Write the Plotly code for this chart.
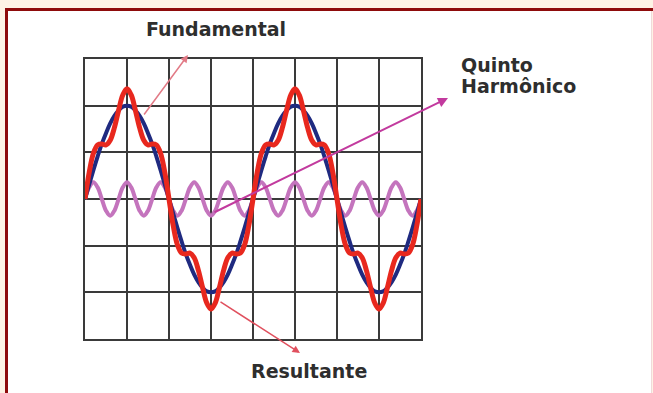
import plotly.graph_objects as go

# sample positions (grid columns)
x_cols = [round(i * 0.1, 1) for i in range(81)]

# fundamental (grid units)
fundamental = [
    0, 0.31, 0.62, 0.91, 1.18, 1.41, 1.62, 1.78, 1.90, 1.98,
    2.00, 1.98, 1.90, 1.78, 1.62, 1.41, 1.18, 0.91, 0.62, 0.31,
    0, -0.31, -0.62, -0.91, -1.18, -1.41, -1.62, -1.78, -1.90, -1.98,
    -2.00, -1.98, -1.90, -1.78, -1.62, -1.41, -1.18, -0.91, -0.62, -0.31,
    0, 0.31, 0.62, 0.91, 1.18, 1.41, 1.62, 1.78, 1.90, 1.98,
    2.00, 1.98, 1.90, 1.78, 1.62, 1.41, 1.18, 0.91, 0.62, 0.31,
    0, -0.31, -0.62, -0.91, -1.18, -1.41, -1.62, -1.78, -1.90, -1.98,
    -2.00, -1.98, -1.90, -1.78, -1.62, -1.41, -1.18, -0.91, -0.62, -0.31,
    0,
]

# fifth harmonic
quinto = [
    0, 0.25, 0.36, 0.25, 0, -0.25, -0.36, -0.25,
    0, 0.25, 0.36, 0.25, 0, -0.25, -0.36, -0.25,
    0, 0.25, 0.36, 0.25, 0, -0.25, -0.36, -0.25,
    0, 0.25, 0.36, 0.25, 0, -0.25, -0.36, -0.25,
    0, 0.25, 0.36, 0.25, 0, -0.25, -0.36, -0.25,
    0, 0.25, 0.36, 0.25, 0, -0.25, -0.36, -0.25,
    0, 0.25, 0.36, 0.25, 0, -0.25, -0.36, -0.25,
    0, 0.25, 0.36, 0.25, 0, -0.25, -0.36, -0.25,
    0, 0.25, 0.36, 0.25, 0, -0.25, -0.36, -0.25,
    0, 0.25, 0.36, 0.25, 0, -0.25, -0.36, -0.25,
    0,
]

# resultant
resultante = [
    0, 0.57, 0.98, 1.16, 1.18, 1.16, 1.26, 1.53, 1.90, 2.23,
    2.36, 2.23, 1.90, 1.53, 1.26, 1.16, 1.18, 1.16, 0.98, 0.57,
    0, -0.57, -0.98, -1.16, -1.18, -1.16, -1.26, -1.53, -1.90, -2.23,
    -2.36, -2.23, -1.90, -1.53, -1.26, -1.16, -1.18, -1.16, -0.98, -0.57,
    0, 0.57, 0.98, 1.16, 1.18, 1.16, 1.26, 1.53, 1.90, 2.23,
    2.36, 2.23, 1.90, 1.53, 1.26, 1.16, 1.18, 1.16, 0.98, 0.57,
    0, -0.57, -0.98, -1.16, -1.18, -1.16, -1.26, -1.53, -1.90, -2.23,
    -2.36, -2.23, -1.90, -1.53, -1.26, -1.16, -1.18, -1.16, -0.98, -0.57,
    0,
]

labels = ["Fundamental", "Quinto", "Harmônico", "Resultante"]

W, H = 653, 393
L, R, T, B = 85, 421, 59, 339


def px(xp):
    return (xp - L) / (R - L)


def py(yp):
    return (B - yp) / (B - T)


fig = go.Figure()
fig.add_trace(go.Scatter(x=x_cols, y=quinto, mode="lines", line=dict(color="#c474bd", width=4, shape="spline"), hoverinfo="skip"))
fig.add_trace(go.Scatter(x=x_cols, y=fundamental, mode="lines", line=dict(color="#1f2a80", width=4, shape="spline"), hoverinfo="skip"))
fig.add_trace(go.Scatter(x=x_cols, y=resultante, mode="lines", line=dict(color="#e8281e", width=5, shape="spline"), hoverinfo="skip"))

grid = "#3a3a3a"
axis_common = dict(showgrid=True, gridcolor=grid, gridwidth=2, zeroline=False,
                   showline=True, mirror=True, linecolor=grid, linewidth=2,
                   showticklabels=False, ticks="", dtick=1, fixedrange=True)
fig.update_xaxes(range=[0, 8], tick0=0, **axis_common)
fig.update_yaxes(range=[-3, 3], tick0=-3, **axis_common)

shapes = [
    dict(type="rect", xref="paper", yref="paper", x0=px(6.5), x1=px(651.5), y0=py(420), y1=py(9.5),
         fillcolor="white", line=dict(width=0), layer="below"),
    dict(type="line", xref="paper", yref="paper", x0=px(5), x1=px(653), y0=py(9.5), y1=py(9.5),
         line=dict(color="#8e0b0b", width=3), layer="below"),
    dict(type="line", xref="paper", yref="paper", x0=px(6.5), x1=px(6.5), y0=py(8), y1=py(400),
         line=dict(color="#8e0b0b", width=3), layer="below"),
    dict(type="line", xref="paper", yref="paper", x0=px(651.5), x1=px(651.5), y0=py(11), y1=py(400),
         line=dict(color="#f0dada", width=1), layer="below"),
]

font = dict(family="DejaVu Sans", size=19, color="#2e2e2e")


def arrow(tail, head, color, width):
    return dict(x=px(head[0]), y=py(head[1]), xref="paper", yref="paper",
                ax=tail[0] - head[0], ay=tail[1] - head[1], axref="pixel", ayref="pixel",
                text="", showarrow=True, arrowhead=2, arrowsize=1, arrowwidth=width,
                arrowcolor=color, standoff=0)


annotations = [
    arrow((143, 116), (188, 55), "#e27a86", 1.5),
    arrow((213, 213), (448, 98), "#c23a9e", 2),
    arrow((219, 301), (300, 353), "#e0505e", 1.5),
    dict(x=px(216), y=py(29), xref="paper", yref="paper", text="<b>" + labels[0] + "</b>",
         showarrow=False, font=font, xanchor="center", yanchor="middle"),
    dict(x=px(459), y=py(65), xref="paper", yref="paper", text="<b>" + labels[1] + "</b>",
         showarrow=False, font=font, xanchor="left", yanchor="middle"),
    dict(x=px(459), y=py(86), xref="paper", yref="paper", text="<b>" + labels[2] + "</b>",
         showarrow=False, font=font, xanchor="left", yanchor="middle"),
    dict(x=px(309), y=py(371), xref="paper", yref="paper", text="<b>" + labels[3] + "</b>",
         showarrow=False, font=font, xanchor="center", yanchor="middle"),
]

fig.update_layout(
    width=W, height=H,
    margin=dict(l=L, r=W - R, t=T, b=H - B, pad=0),
    paper_bgcolor="#fdf3e5", plot_bgcolor="white",
    showlegend=False, shapes=shapes, annotations=annotations,
)

fig.write_html(
    "out.html",
    config={"displayModeBar": False, "staticPlot": True},
    post_script="document.body.style.margin='0';document.body.style.overflow='hidden';",
)
